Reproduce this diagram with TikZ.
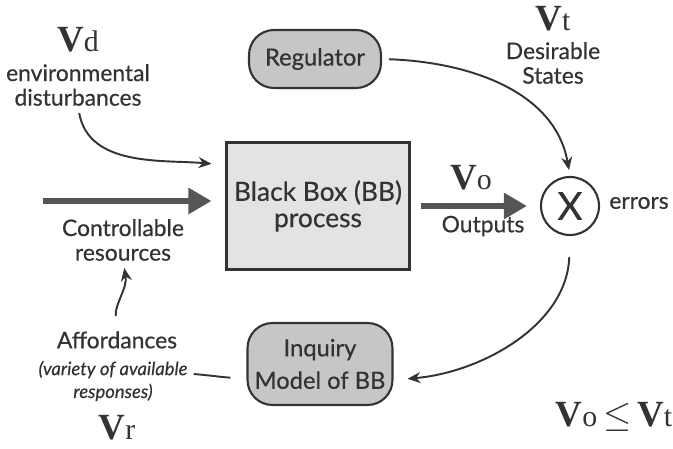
\documentclass[tikz,border=0pt]{standalone}
\usepackage{fontspec}
\setmainfont{Lato}[UprightFeatures={FakeBold=0.5}, ItalicFeatures={FakeBold=0.5}]
\newfontfamily\vfont{Liberation Serif}
\usetikzlibrary{arrows.meta, positioning, calc}

\definecolor{ink}{HTML}{333333}
\definecolor{pillgray}{HTML}{C6C6C6}
\definecolor{boxgray}{HTML}{E3E3E3}
\definecolor{flowgray}{HTML}{555555}

\newcommand{\vlabel}[1]{{\vfont\fontsize{21}{21}\selectfont\textbf{V}}{\vfont\fontsize{17}{17}\selectfont #1}}

\begin{document}
\begin{tikzpicture}[x=0.02cm, y=-0.02cm,
    txt/.style={text=ink, align=center, inner sep=0pt, font=\fontsize{13}{14}\selectfont},
    pill/.style={draw=ink, line width=1.2pt, fill=pillgray, rounded corners=0.5cm, text=ink, align=center, font=\fontsize{13.5}{18.5}\selectfont},
    bbox/.style={draw=ink, line width=1.2pt, fill=boxgray, text=ink, align=center, font=\fontsize{15}{15}\selectfont},
    link/.style={draw=ink, line width=1.1pt, -{Stealth[length=0.26cm, width=0.22cm]}},
    flow/.style={draw=flowgray, line width=3.6pt, -{Triangle[length=0.46cm, width=0.5cm]}}]
    \useasboundingbox (0,0) rectangle (673,449);

    % Nodes
    \node (bb) [bbox, minimum width=3.66cm, minimum height=2.54cm] at (318,206) {Black Box (BB)\\process};
    \node (reg) [pill, minimum width=2.64cm, minimum height=1.16cm] at (315,59) {Regulator};
    \node (inq) [pill, minimum width=2.9cm, minimum height=1.64cm] at (320,364) {Inquiry\\Model of BB};
    \node (cmp) [draw=ink, line width=1.2pt, circle, minimum size=1.16cm, inner sep=0pt, text=ink, font=\fontsize{22}{22}\selectfont] at (570,206) {X};
    \node (err) [txt] at (639,203) {errors};

    % Labels
    \node (vd) [txt] at (78,40) {\vlabel{d}};
    \node (dist) [txt] at (78,85) {environmental\\disturbances};
    \node (vt) [txt] at (553,19) {\vlabel{t}};
    \node (desire) [txt] at (553,63) {Desirable\\States};
    \node (vo) [txt] at (471,178) {\vlabel{o}};
    \node (out) [txt] at (483,226) {Outputs};
    \node (ctrl) [txt] at (123,240) {Controllable\\resources};
    \node (aff) [txt] at (117,340) {Affordances};
    \node (var) [txt, font=\fontsize{10.5}{13}\selectfont\itshape] at (113,381) {(variety of available\\responses)};
    \node (vr) [txt] at (117,428) {\vlabel{r}};
    \node (cond) [txt] at (614,417) {\vlabel{o} {\fontsize{20}{20}\selectfont$\leq$} \vlabel{t}};
    \coordinate (src) at (43,201);

    % Arrows
    \draw[flow, shorten >=0.28cm] (src) -- (src -| bb.west);
    \draw[flow, shorten <=0.2cm, shorten >=0.26cm] (bb.east) -- (cmp.west);
    \draw[link, shorten <=0.14cm, shorten >=0.28cm] (dist.south) to[out=-80, in=175] ([yshift=0.82cm]bb.west);
    \draw[link, shorten <=0.14cm, shorten >=0.12cm] (reg.east) to[out=-2, in=100] (cmp.north);
    \draw[link, shorten <=0.42cm, shorten >=0.28cm] (cmp.south) to[out=-92, in=5] ([yshift=-0.32cm]inq.east);
    \draw[link, shorten <=0.3cm, shorten >=0.14cm] (aff.north) to[out=95, in=-80] (ctrl.south);
    \draw[draw=ink, line width=1.1pt, shorten <=0.32cm] ([yshift=-0.26cm]inq.west) to[out=182, in=-5] ([xshift=0.12cm, yshift=0.14cm]var.east);
\end{tikzpicture}
\end{document}
